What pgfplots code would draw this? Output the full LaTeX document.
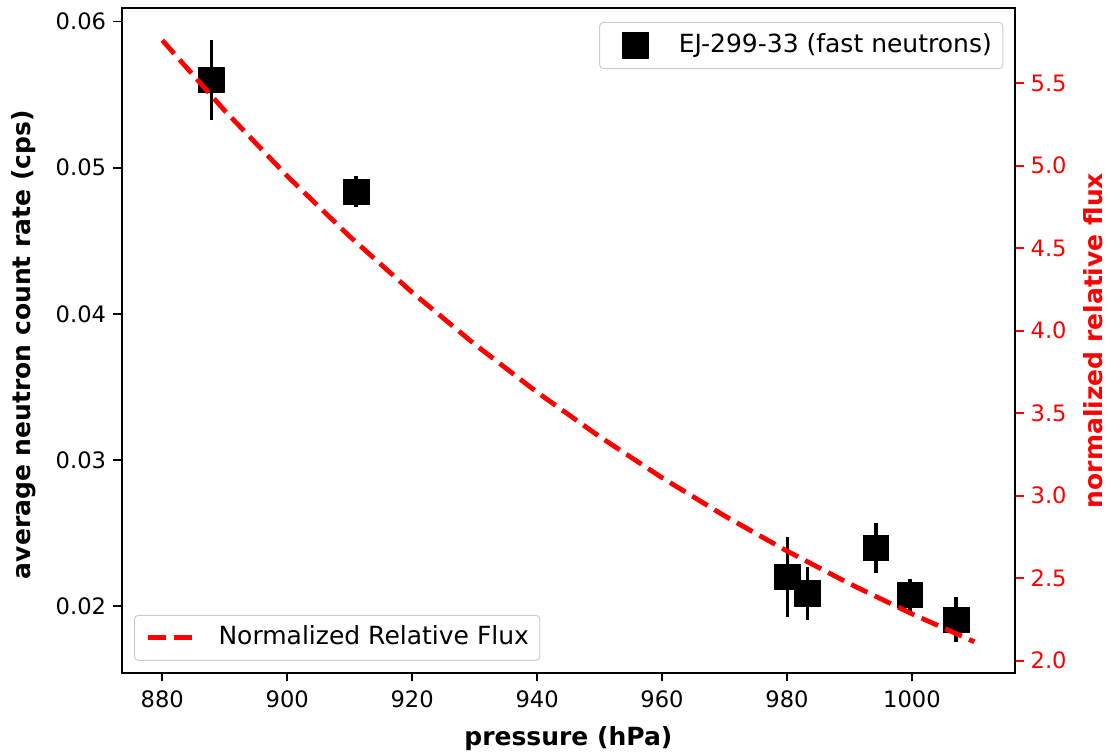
\documentclass[border=0pt]{standalone}
\usepackage{fontspec}
\setmainfont{DejaVu Sans}
\usepackage{pgfplots}
\usepackage{pgfplotstable}
\pgfplotsset{compat=1.18}

\pgfplotstableread{
x y e
887.9 0.05600 0.00275
911.05 0.04835 0.00105
980.1 0.02198 0.00273
983.3 0.02087 0.00180
994.2 0.02397 0.00168
999.7 0.02075 0.00110
1007.1 0.01905 0.00154
}\countdata

\pgfplotstableread{
x f
880 5.760
890 5.333
900 4.937
910 4.571
920 4.232
930 3.918
940 3.627
950 3.358
960 3.109
970 2.878
980 2.665
990 2.467
1000 2.284
1010 2.115
}\fluxdata

\begin{document}
\begin{tikzpicture}
\pgfplotsset{
  common/.style={
    at={(0pt,0pt)}, anchor=south west,
    width=446.65pt, height=332.2pt, scale only axis,
    xmin=873.5, xmax=1016.5,
    /pgf/number format/assume math mode=true,
    tick align=outside,
    major tick length=4.3pt,
    axis line style={line width=0.9pt, black},
    every tick/.style={line width=0.9pt},
    tick label style={font=\fontsize{11.3}{13.5}\selectfont},
    legend style={font=\fontsize{12.5}{15}\selectfont, draw=black!20, line width=0.5pt, rounded corners=2pt,
      fill=white, fill opacity=0.8, text opacity=1, draw opacity=1,
      inner xsep=5.5pt, inner ysep=5.2pt, column sep=11.6pt,
      nodes={inner xsep=0pt, inner ysep=0pt, text height=9.5pt, text depth=2.6pt}},
    legend cell align=left,
  },
}
\path[use as bounding box] (-60.85pt,-41pt) rectangle (493.15pt,336.4pt);

\begin{axis}[common,
  ymin=0.01543, ymax=0.0609,
  xtick={880,900,920,940,960,980,1000},
  ytick={0.02,0.03,0.04,0.05,0.06},
  scaled y ticks=false,
  xtick pos=left, ytick pos=left,
  yticklabel style={/pgf/number format/.cd, fixed, fixed zerofill, precision=2},
  xticklabel style={yshift=-1.2pt, /pgf/number format/1000 sep={}},
  every axis y label/.style={at={(axis description cs:0,0.5)}, xshift=-48.8pt, yshift=-2pt, anchor=center, rotate=90, font=\fontsize{12.5}{15}\selectfont\bfseries},
  every axis x label/.style={at={(axis description cs:0.5,0)}, yshift=-33pt, anchor=center, font=\fontsize{12.5}{15}\selectfont\bfseries},
  ylabel={average neutron count rate (cps)},
  xlabel={pressure (hPa)},
  legend style={at={(axis description cs:1,1)}, anchor=north east, xshift=-5.85pt, yshift=-6.7pt},
  legend image code/.code={\path[draw=none, fill=none] (0pt,0pt) -- (22.5pt,0pt); \draw[#1, fill opacity=1, draw opacity=1] plot[only marks] coordinates {(12.5pt,0pt)};},
]
\addplot[only marks, mark=square*, mark size=6.4pt, black, mark options={line join=round},
  error bars/.cd, y dir=both, y explicit, error mark=none,
  error bar style={line width=1.8pt, black}]
  table[x=x, y=y, y error=e] {\countdata};
\addlegendentry{EJ-299-33 (fast neutrons)}
\end{axis}

\begin{axis}[common,
  ymin=1.927, ymax=5.953,
  axis x line=none, axis y line*=right,
  ytick={2.0,2.5,3.0,3.5,4.0,4.5,5.0,5.5},
  ytick style={red},
  yticklabel style={red, /pgf/number format/.cd, fixed, fixed zerofill, precision=1},
  every axis y label/.style={at={(axis description cs:1,0.5)}, xshift=39.2pt, anchor=center, rotate=90, text=red, font=\fontsize{12.5}{15}\selectfont\bfseries},
  ylabel={normalized relative flux},
  legend style={at={(axis description cs:0,0)}, anchor=south west, xshift=6.15pt, yshift=6pt},
  legend image code/.code={\draw[#1] (0pt,0pt) -- (22.5pt,0pt);},
]
\addplot[red, line width=2.4pt, dash pattern=on 9pt off 4pt] table[x=x, y=f] {\fluxdata};
\addlegendentry{Normalized Relative Flux}
\end{axis}
\end{tikzpicture}
\end{document}
